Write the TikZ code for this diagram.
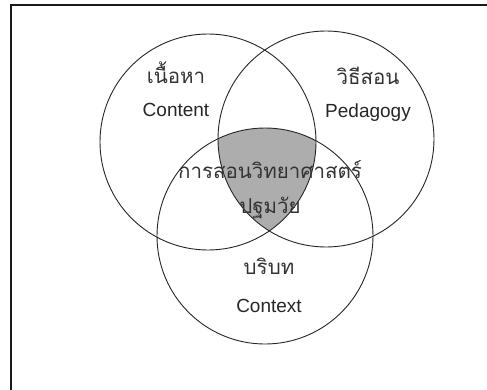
\documentclass[tikz,border=0pt]{standalone}
\usepackage{fontspec}
\setmainfont{Liberation Sans}
\newfontfamily\thaifont[Script=Thai]{Loma}
\begin{document}
\begin{tikzpicture}[x=1pt,y=-1pt,
  ring/.style={draw=black!85,line width=0.9pt},
  en/.style={font=\fontsize{19}{22}\selectfont,text=black!85},
  th/.style={font=\thaifont\fontsize{20.5}{24}\selectfont,text=black!80}]
\useasboundingbox (0,0) rectangle (487,389);
\fill[white] (0,0) rectangle (487,389);
\draw[line width=1.6pt,black!90] (11,390) -- (11,5) -- (490,5);
% shaded triple intersection
\begin{scope}
  \clip (208,142) circle (108);
  \clip (326,139) circle (108);
  \fill[black!32] (265,236) circle (108);
\end{scope}
\node[ring,circle,minimum size=216pt,inner sep=0pt] (A) at (208,142) {};
\node[ring,circle,minimum size=216pt,inner sep=0pt] (B) at (326,139) {};
\node[ring,circle,minimum size=216pt,inner sep=0pt] (C) at (265,236) {};
\node[th] (a1) at (176,73) {เนื้อหา};
\node[en] (a2) at (176,110) {Content};
\node[th] (b1) at (368,76) {วิธีสอน};
\node[en] (b2) at (368,113) {Pedagogy};
\node[th] (m1) at (270,170) {การสอนวิทยาศาสตร์};
\node[th] (m2) at (270,208) {ปฐมวัย};
\node[th] (c1) at (269,266) {บริบท};
\node[en] (c2) at (269,306) {Context};
\end{tikzpicture}
\end{document}
